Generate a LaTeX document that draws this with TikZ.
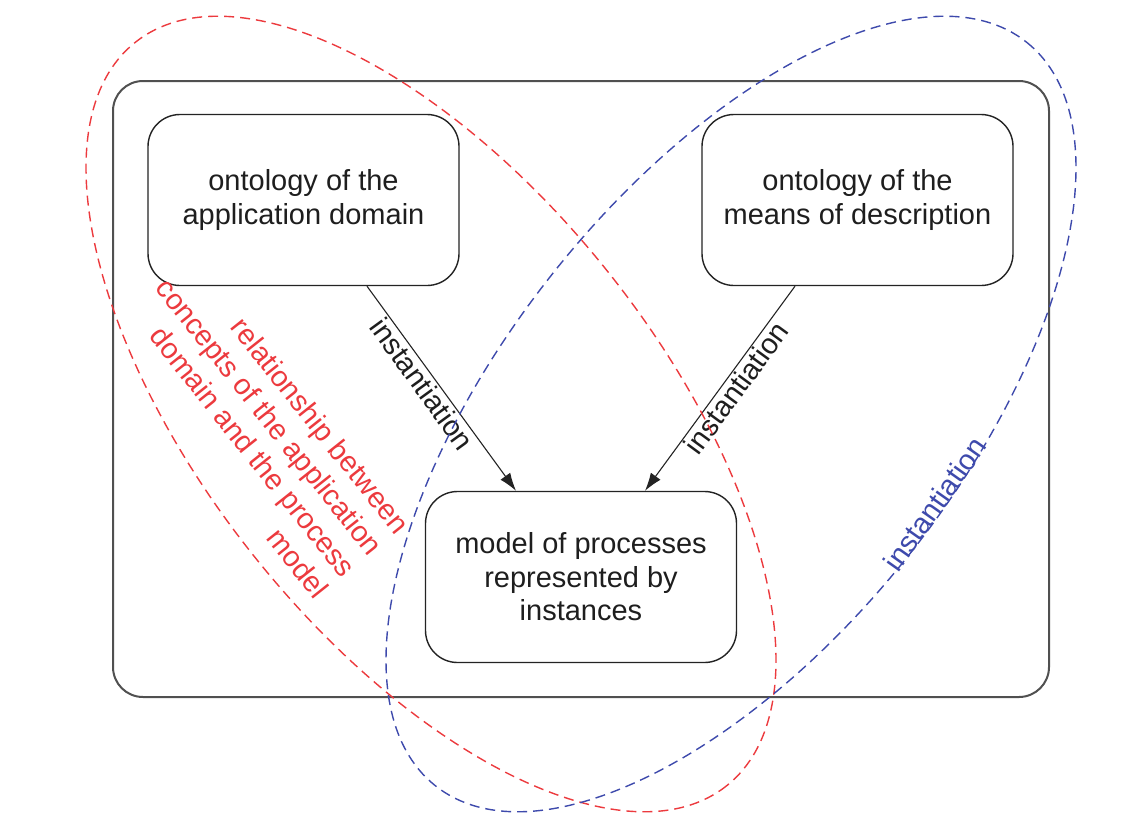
\documentclass[tikz,border=0pt]{standalone}
\usepackage{fontspec}
\setmainfont{Liberation Sans}
\usetikzlibrary{arrows.meta,calc}
\definecolor{redc}{RGB}{236,58,62}
\definecolor{bluec}{RGB}{62,74,172}
\definecolor{boxc}{RGB}{35,35,35}
\definecolor{outc}{RGB}{80,80,80}
\definecolor{txtc}{RGB}{30,30,30}
\begin{document}
\begin{tikzpicture}[x=1pt,y=-1pt,
  frame/.style={draw=outc, line width=2pt, rounded corners=30pt, minimum width=936pt, minimum height=616pt, inner sep=0pt},
  box/.style={draw=boxc, line width=1.4pt, rounded corners=32pt, align=center, text=txtc,
    font=\fontsize{29}{33.5}\selectfont, inner sep=0pt, minimum width=311pt, minimum height=171pt},
  arr/.style={draw=boxc, line width=1.1pt, -{Latex[length=18pt,width=12pt]}},
  lbl/.style={font=\fontsize{29}{33}\selectfont, text=txtc, inner sep=1.5pt},
  ell/.style={line width=1.4pt, dash pattern=on 10pt off 6pt},
  redtxt/.style={font=\fontsize{29}{34.5}\selectfont, text=redc, align=right, inner sep=0pt},
  bluetxt/.style={font=\fontsize{29}{33}\selectfont, text=bluec, inner sep=0pt}]
\useasboundingbox (0,0) rectangle (1145,814);
\node[frame] (fr) at (581,389) {};
\node[box] (b1) at (303.5,200) {ontology of the\\application domain};
\node[box] (b2) at (857.5,200) {ontology of the\\means of description};
\node[box] (b3) at (581,577) {model of processes\\represented by\\instances};
\draw[arr] ([xshift=63.5pt]b1.south) -- node[sloped, below, pos=0.44, lbl] {instantiation} ([xshift=-65pt]b3.north);
\draw[arr] ([xshift=-62.5pt]b2.south) -- node[sloped, below, pos=0.46, lbl] {instantiation} ([xshift=64pt]b3.north);
\draw[ell, draw=redc, rotate around={-51.5:(431,414)}] (431,414) ellipse [x radius=475, y radius=227];
\draw[ell, draw=bluec, rotate around={51.5:(731,414)}] (731,414) ellipse [x radius=475, y radius=227];
\node[redtxt, rotate=-51.5, anchor=east] (rt) at (363,562) {relationship between\\concepts of the application\\domain and the process\\model};
\node[bluetxt, rotate=54.8, anchor=base] (bt) at (943,510) {instantiation};
\end{tikzpicture}
\end{document}
